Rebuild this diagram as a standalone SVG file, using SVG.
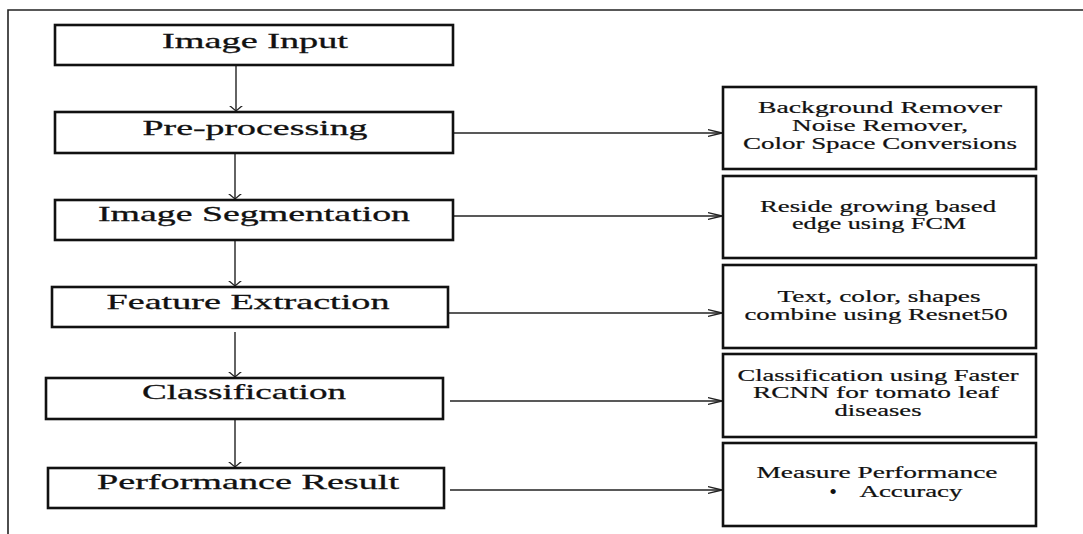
<svg xmlns="http://www.w3.org/2000/svg" width="1083" height="534" viewBox="0 0 1083 534">
<style>
.box{fill:#fff;stroke:#111;stroke-width:2.6}
.frame{fill:none;stroke:#222;stroke-width:1.6}
.conn{fill:none;stroke:#222;stroke-width:1.4}
.t1{font-family:"Liberation Serif","Times New Roman",serif;font-size:22px;fill:#111;stroke:#111;stroke-width:0.3;text-anchor:middle}
.t2{font-family:"Liberation Serif","Times New Roman",serif;font-size:16px;fill:#111;stroke:#111;stroke-width:0.2;text-anchor:middle}
.bul{font-family:"Liberation Serif","Times New Roman",serif;font-size:22px;fill:#111;text-anchor:middle}
</style>
<defs>
<marker id="arR" viewBox="0 0 15 8" refX="14.5" refY="4" markerWidth="15" markerHeight="8" markerUnits="userSpaceOnUse" orient="auto">
<path d="M0,0.5 L14.5,4 L0,7.5" fill="none" stroke="#222" stroke-width="1.3"/>
</marker>
<marker id="arD" viewBox="0 0 6 14" refX="5.5" refY="7" markerWidth="6" markerHeight="14" markerUnits="userSpaceOnUse" orient="auto">
<path d="M0,0.5 L5.5,7 L0,13.5" fill="none" stroke="#222" stroke-width="1.3"/>
</marker>
</defs>
<rect width="1083" height="534" fill="#fff"/>
<path class="frame" d="M8,534 L8,10 L1083,10"/>

<g id="connectors">
<line class="conn" x1="236" y1="65" x2="236" y2="111" marker-end="url(#arD)"/>
<line class="conn" x1="235" y1="153" x2="235" y2="199" marker-end="url(#arD)"/>
<line class="conn" x1="235" y1="240" x2="235" y2="286" marker-end="url(#arD)"/>
<line class="conn" x1="235" y1="332" x2="235" y2="377" marker-end="url(#arD)"/>
<line class="conn" x1="235" y1="420" x2="235" y2="467" marker-end="url(#arD)"/>
<line class="conn" x1="454" y1="133" x2="722" y2="133" marker-end="url(#arR)"/>
<line class="conn" x1="454" y1="216" x2="722" y2="216" marker-end="url(#arR)"/>
<line class="conn" x1="449" y1="313" x2="722" y2="313" marker-end="url(#arR)"/>
<line class="conn" x1="450" y1="401" x2="722" y2="401" marker-end="url(#arR)"/>
<line class="conn" x1="450" y1="490" x2="722" y2="490" marker-end="url(#arR)"/>
</g>

<g id="image-input">
<rect class="box" x="55" y="25" width="398" height="40"/>
<text class="t1" x="255" y="48" textLength="186" lengthAdjust="spacingAndGlyphs">Image Input</text>
</g>
<g id="pre-processing">
<rect class="box" x="55" y="112" width="398" height="41"/>
<text class="t1" x="255" y="135" textLength="225" lengthAdjust="spacingAndGlyphs">Pre-processing</text>
</g>
<g id="image-segmentation">
<rect class="box" x="55" y="200" width="398" height="40"/>
<text class="t1" x="254" y="221" textLength="312" lengthAdjust="spacingAndGlyphs">Image Segmentation</text>
</g>
<g id="feature-extraction">
<rect class="box" x="52" y="287" width="396" height="40"/>
<text class="t1" x="248" y="309" textLength="283" lengthAdjust="spacingAndGlyphs">Feature Extraction</text>
</g>
<g id="classification">
<rect class="box" x="46" y="378" width="397" height="41"/>
<text class="t1" x="244" y="399" textLength="204" lengthAdjust="spacingAndGlyphs">Classification</text>
</g>
<g id="performance-result">
<rect class="box" x="48" y="468" width="396" height="40"/>
<text class="t1" x="248" y="489" textLength="302" lengthAdjust="spacingAndGlyphs">Performance Result</text>
</g>

<g id="preproc-detail">
<rect class="box" x="723" y="87" width="313" height="82"/>
<text class="t2" x="880" y="113" textLength="244" lengthAdjust="spacingAndGlyphs">Background Remover</text>
<text class="t2" x="880" y="131" textLength="176" lengthAdjust="spacingAndGlyphs">Noise Remover,</text>
<text class="t2" x="880" y="149" textLength="274" lengthAdjust="spacingAndGlyphs">Color Space Conversions</text>
</g>
<g id="segmentation-detail">
<rect class="box" x="723" y="176" width="313" height="82"/>
<text class="t2" x="878" y="212" textLength="236" lengthAdjust="spacingAndGlyphs">Reside growing based</text>
<text class="t2" x="879" y="229" textLength="174" lengthAdjust="spacingAndGlyphs">edge using FCM</text>
</g>
<g id="feature-detail">
<rect class="box" x="723" y="265" width="313" height="83"/>
<text class="t2" x="879" y="302" textLength="203" lengthAdjust="spacingAndGlyphs">Text, color, shapes</text>
<text class="t2" x="876" y="320" textLength="263" lengthAdjust="spacingAndGlyphs">combine using Resnet50</text>
</g>
<g id="classification-detail">
<rect class="box" x="723" y="354" width="313" height="83"/>
<text class="t2" x="878" y="381" textLength="281" lengthAdjust="spacingAndGlyphs">Classification using Faster</text>
<text class="t2" x="876" y="398" textLength="246" lengthAdjust="spacingAndGlyphs">RCNN for tomato leaf</text>
<text class="t2" x="878" y="416" textLength="87" lengthAdjust="spacingAndGlyphs">diseases</text>
</g>
<g id="performance-detail">
<rect class="box" x="723" y="443" width="313" height="83"/>
<text class="t2" x="877" y="478" textLength="241" lengthAdjust="spacingAndGlyphs">Measure Performance</text>
<text class="bul" x="833" y="499">•</text>
<text class="t2" x="911" y="497" textLength="103" lengthAdjust="spacingAndGlyphs">Accuracy</text>
</g>
</svg>
